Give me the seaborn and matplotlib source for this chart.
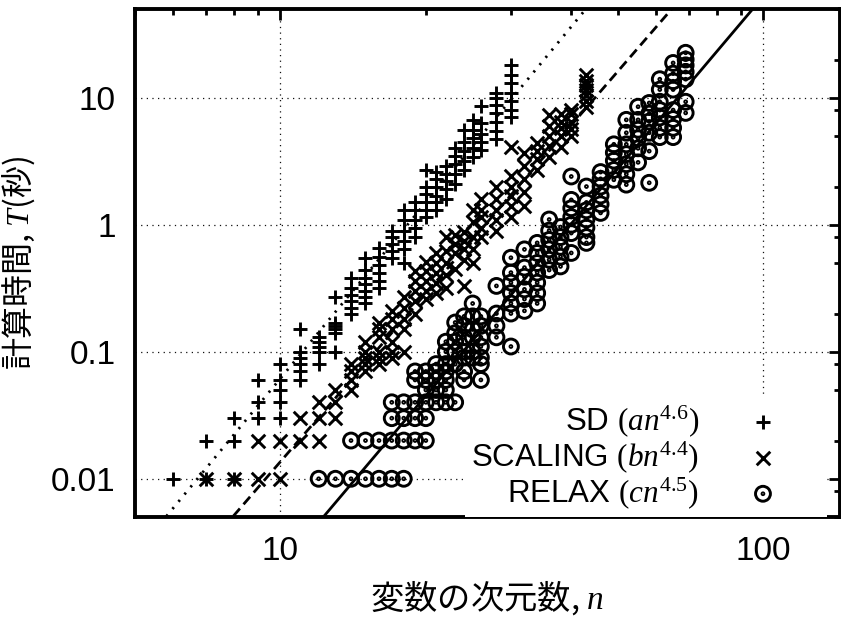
import numpy as np
import pandas as pd
import matplotlib
matplotlib.use("Agg")
import matplotlib.pyplot as plt
from matplotlib.path import Path
from matplotlib.markers import MarkerStyle
from matplotlib.ticker import FixedLocator, LogLocator, FuncFormatter, NullFormatter
import seaborn as sns

# ---------------- data ----------------
sd_n = [6, 7, 8, 9, 10, 11, 12, 13, 14, 15, 16, 17, 18, 19, 20, 21, 22, 23, 24, 25, 26, 28, 30]
sd_t = [
    [0.01],
    [0.01, 0.02],
    [0.01, 0.02, 0.03],
    [0.03, 0.04, 0.06],
    [0.03, 0.04, 0.05, 0.06, 0.08],
    [0.06, 0.07, 0.08, 0.09, 0.1, 0.15],
    [0.08, 0.1, 0.11, 0.12, 0.13],
    [0.1, 0.14, 0.15, 0.16, 0.17, 0.27],
    [0.2, 0.22, 0.25, 0.28, 0.32, 0.38],
    [0.24, 0.27, 0.3, 0.34, 0.38, 0.44, 0.55],
    [0.32, 0.36, 0.42, 0.48, 0.56, 0.66],
    [0.55, 0.62, 0.7, 0.8, 0.9],
    [0.5, 0.65, 0.75, 0.9, 1.1, 1.3],
    [0.8, 0.95, 1.1, 1.3, 1.5],
    [1.15, 1.3, 1.5, 1.75, 2.0, 2.7],
    [1.3, 1.5, 1.7, 2.0, 2.3, 2.6],
    [1.6, 1.9, 2.2, 2.5, 2.9],
    [2.1, 2.5, 3.0, 3.5, 4.0],
    [2.7, 3.2, 3.8, 4.5, 5.6],
    [3.4, 4.0, 4.8, 5.6, 6.7],
    [3.9, 4.5, 5.2, 6.3, 8.6],
    [4.7, 5.5, 6.5, 7.6, 8.8, 10, 11],
    [7, 8, 9.5, 11, 13, 15, 18],
]

sc_n = [7, 8, 9, 10, 11, 12, 13, 14, 15, 16, 17, 18, 19, 20, 21, 22, 23, 24, 25, 26, 28, 30, 32, 34, 36, 38, 40, 43]
sc_t = [
    [0.01],
    [0.01],
    [0.01, 0.02],
    [0.01, 0.02],
    [0.02, 0.03],
    [0.02, 0.03, 0.04],
    [0.03, 0.04, 0.05],
    [0.05, 0.06, 0.07, 0.08],
    [0.07, 0.08, 0.09, 0.1, 0.12],
    [0.08, 0.09, 0.1, 0.13, 0.15, 0.17],
    [0.09, 0.1, 0.12, 0.15, 0.18, 0.21],
    [0.1, 0.15, 0.18, 0.22, 0.27],
    [0.2, 0.25, 0.3, 0.36, 0.43],
    [0.26, 0.3, 0.36, 0.43, 0.51],
    [0.29, 0.35, 0.42, 0.5, 0.6],
    [0.32, 0.4, 0.5, 0.62, 0.8],
    [0.45, 0.6, 0.7, 0.83],
    [0.33, 0.53, 0.65, 0.75, 0.88],
    [0.5, 0.64, 0.8, 1.05, 1.3],
    [0.8, 0.95, 1.15, 1.3, 1.6],
    [0.9, 1.1, 1.3, 1.6, 2.0],
    [1.15, 1.4, 1.7, 2.0, 2.4, 4.1],
    [1.4, 1.8, 2.3, 2.9, 3.7],
    [2.7, 3.3, 3.8, 4.4],
    [3.4, 4.2, 5.0, 6.0, 7.3],
    [4.1, 5.0, 5.8, 6.5, 7.5],
    [5.0, 5.7, 6.5, 7.5, 8.0],
    [8.5, 9.5, 10.5, 11.5, 12.5, 13.5, 15],
]

rx_n = [12, 13, 14, 15, 16, 17, 18, 19, 20, 21, 22, 23, 24, 25, 26, 28, 30, 32, 34, 36, 38,
        40, 43, 46, 49, 52, 55, 58, 61, 65, 69]
rx_t = [
    [0.01],
    [0.01],
    [0.01, 0.02],
    [0.01, 0.02],
    [0.01, 0.02],
    [0.01, 0.02, 0.03, 0.04],
    [0.01, 0.02, 0.03, 0.04],
    [0.02, 0.03, 0.04, 0.06, 0.07],
    [0.02, 0.03, 0.04, 0.05, 0.06, 0.07],
    [0.04, 0.05, 0.06, 0.07, 0.08],
    [0.04, 0.05, 0.06, 0.07, 0.08, 0.1, 0.12],
    [0.04, 0.08, 0.1, 0.12, 0.14, 0.17],
    [0.06, 0.07, 0.09, 0.1, 0.13, 0.16, 0.19],
    [0.09, 0.1, 0.13, 0.15, 0.19, 0.24],
    [0.06, 0.08, 0.09, 0.11, 0.13, 0.16, 0.19],
    [0.13, 0.16, 0.2, 0.33],
    [0.11, 0.2, 0.24, 0.29, 0.35, 0.42, 0.55],
    [0.21, 0.26, 0.31, 0.39, 0.46, 0.64],
    [0.24, 0.29, 0.35, 0.42, 0.5, 0.6, 0.72],
    [0.44, 0.53, 0.64, 0.76, 0.9, 1.1],
    [0.47, 0.56, 0.67, 0.8, 0.96],
    [0.6, 0.86, 1.0, 1.15, 1.35, 1.57, 2.4],
    [0.72, 0.8, 0.95, 1.1, 1.3, 1.5, 2.0],
    [1.24, 1.45, 1.7, 2.0, 2.3, 2.6],
    [2.26, 2.7, 3.2, 3.7, 4.3],
    [2.07, 2.5, 3.0, 3.6, 4.3, 5.3, 6.7],
    [3.1, 4.0, 4.8, 5.6, 6.7, 8.5],
    [2.14, 3.8, 5.3, 6.5, 7.5, 9.1],
    [4.9, 5.8, 7.0, 8.0, 9.3, 11.6, 14],
    [4.9, 5.8, 6.8, 8.0, 11.6, 13.5, 15.5, 18.8],
    [7.6, 9.3, 14, 16, 18, 20, 22.6],
]

# fitted power laws  T = coef * n**exp
fit_coef = [1.55e-6, 5.43e-7, 6.3e-8]
fit_exp = [4.6, 4.4, 4.5]

series_labels = ["SD $(an^{4.6})$", "SCALING $(bn^{4.4})$", "RELAX $(cn^{4.5})$"]
x_ticks = [10, 100]
y_ticks = [0.01, 0.1, 1, 10]
x_label = "変数の次元数, $n$"
y_label = "計算時間, $T$(秒)"


def expand(ns, ts):
    rows = [(n, t) for n, tl in zip(ns, ts) for t in tl]
    return pd.DataFrame(rows, columns=["n", "T"])


df_sd = expand(sd_n, sd_t)
df_sc = expand(sc_n, sc_t)
df_rx = expand(rx_n, rx_t)

# ---------------- style ----------------
sns.set_theme(style="white")
plt.rcParams["font.family"] = ["Liberation Sans", "Noto Sans CJK JP", "DejaVu Sans"]
plt.rcParams["text.color"] = "black"
plt.rcParams["axes.labelcolor"] = "black"
plt.rcParams["mathtext.fontset"] = "custom"
plt.rcParams["mathtext.rm"] = "Liberation Serif"
plt.rcParams["mathtext.it"] = "Liberation Serif:italic"
plt.rcParams["mathtext.bf"] = "Liberation Serif:bold"
plt.rcParams["mathtext.sf"] = "Liberation Sans"

W, H = 841, 621
fig = plt.figure(figsize=(W / 100, H / 100), dpi=100)
ax = fig.add_axes([135 / W, 104 / H, 705 / W, 508 / H])
ax.set_xscale("log")
ax.set_yscale("log")

# circle-with-dot marker
ring = Path.circle((0, 0), 1.0)
dot = Path.circle((0, 0), 0.12)
circ_dot = MarkerStyle(Path.make_compound_path(ring, dot), fillstyle="none")

sns.scatterplot(data=df_sd, x="n", y="T", marker="+", s=110, color="black",
                linewidth=2.1, label=series_labels[0], ax=ax, zorder=3)
sns.scatterplot(data=df_sc, x="n", y="T", marker="x", s=95, color="black",
                linewidth=2.1, label=series_labels[1], ax=ax, zorder=3)
sns.scatterplot(data=df_rx, x="n", y="T", marker=circ_dot, s=115, color="black",
                linewidth=2.1, label=series_labels[2], ax=ax, zorder=3)

# fit lines
n_line = np.array([4.0, 200.0])
styles = [(0, (0.8, 2.6)), (0, (3.6, 2.0)), "-"]
for coef, ex, ls in zip(fit_coef, fit_exp, styles):
    sns.lineplot(x=n_line, y=coef * n_line ** ex, ax=ax, color="black",
                 linestyle=ls, linewidth=2.0, zorder=2.5, sort=False, estimator=None)

ax.set_xlim(5, 144)
ax.set_ylim(0.005, 50)

# ticks
ax.xaxis.set_major_locator(FixedLocator(x_ticks))
ax.yaxis.set_major_locator(FixedLocator(y_ticks))
ax.xaxis.set_minor_locator(LogLocator(base=10, subs=tuple(range(2, 10)), numticks=30))
ax.yaxis.set_minor_locator(LogLocator(base=10, subs=(2.0, 5.0, 8.0), numticks=30))
fmt = FuncFormatter(lambda v, p: f"{v:g}")
ax.xaxis.set_major_formatter(fmt)
ax.yaxis.set_major_formatter(fmt)
ax.xaxis.set_minor_formatter(NullFormatter())
ax.yaxis.set_minor_formatter(NullFormatter())
ax.tick_params(which="major", direction="in", length=8, width=2, top=True, right=True,
               labelsize=24, pad=14, colors="black")
ax.tick_params(which="minor", direction="in", length=4, width=2, top=True, right=True,
               colors="black")

for sp in ax.spines.values():
    sp.set_visible(True)
    sp.set_color("black")
    sp.set_linewidth(2.8)

ax.set_axisbelow(True)
ax.grid(True, which="major", color="#111111", linestyle=(0, (1, 3.5)), linewidth=0.9)
ax.grid(False, which="minor")

ax.set_xlabel(x_label, fontsize=24, fontfamily="Noto Sans CJK JP", labelpad=8, color="black")
ax.set_ylabel(y_label, fontsize=23, fontfamily="Noto Sans CJK JP", labelpad=10, color="black")

leg = ax.legend(loc="lower right", bbox_to_anchor=(0.9816, 0.0), borderaxespad=0,
                markerfirst=False, frameon=True, fancybox=False, framealpha=1,
                facecolor="white", edgecolor="none", prop={"family": "Liberation Sans", "size": 22.5},
                handlelength=3.7, handletextpad=0.2, borderpad=0.2, labelspacing=0.0,
                scatterpoints=1)
for t in leg.get_texts():
    t.set_color("black")
leg.set_zorder(5)

fig.savefig("out.png", dpi=100)
